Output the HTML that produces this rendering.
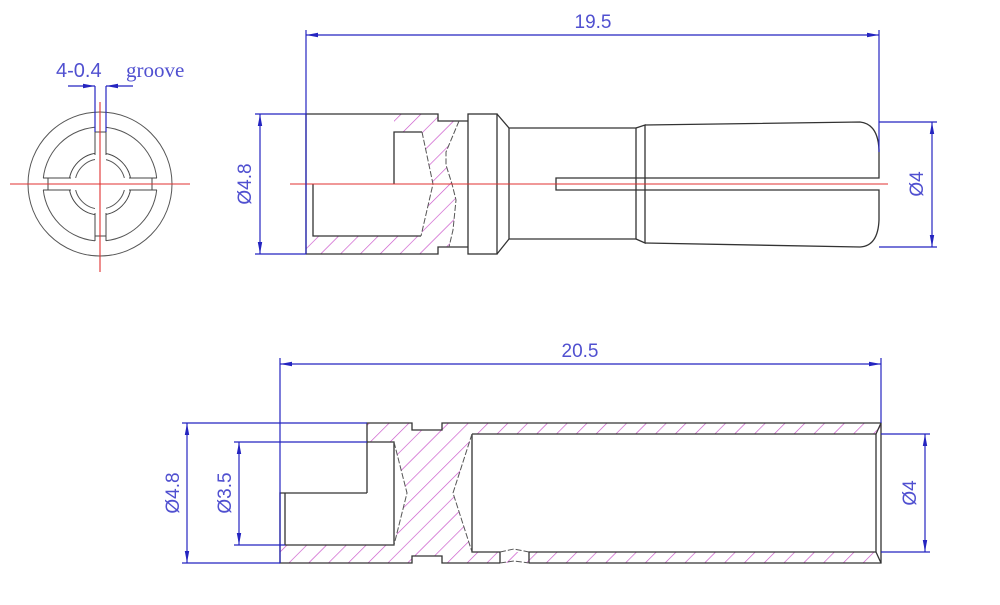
<!DOCTYPE html>
<html><head><meta charset="utf-8"><style>
html,body{margin:0;padding:0;background:#fff;}
svg{display:block;}
.k{stroke:#333;stroke-width:1.3;fill:none;}
.k2{stroke:#444;stroke-width:1;fill:none;}
.g{stroke:#555;stroke-width:1;fill:none;}
.b{stroke:#2424c0;stroke-width:1.2;fill:none;}
.r{stroke:#e03030;stroke-width:1.1;fill:none;}
.t{font-family:"Liberation Sans",sans-serif;fill:#5050d0;font-size:19px;}
</style></head><body>
<svg width="1000" height="605" viewBox="0 0 1000 605" xmlns="http://www.w3.org/2000/svg">
<defs>
<pattern id="h" patternUnits="userSpaceOnUse" width="14" height="14" patternTransform="rotate(45)">
<line x1="0" y1="0" x2="0" y2="14" stroke="#c850c8" stroke-width="1.3"/>
</pattern>
<marker id="a" markerWidth="12" markerHeight="6" refX="12" refY="3" orient="auto" markerUnits="userSpaceOnUse">
<path d="M0,0.8 L12,3 L0,5.2Z" fill="#2424c0"/></marker>
</defs>

<!-- ===== end view circle ===== -->
<circle cx="100" cy="184" r="72" class="g"/>
<circle cx="100" cy="184" r="57" class="g"/>
<circle cx="100" cy="184" r="31" class="k2"/>
<circle cx="100" cy="184" r="25" class="g"/>
<rect x="95" y="126" width="11" height="116" fill="#fff"/>
<rect x="42" y="178" width="116" height="12" fill="#fff"/>
<g class="k2">
<line x1="95" y1="127" x2="95" y2="155"/><line x1="106" y1="127" x2="106" y2="155"/>
<line x1="95" y1="213" x2="95" y2="241"/><line x1="106" y1="213" x2="106" y2="241"/>
<line x1="43" y1="178" x2="71" y2="178"/><line x1="43" y1="190" x2="71" y2="190"/>
<line x1="129" y1="178" x2="157" y2="178"/><line x1="129" y1="190" x2="157" y2="190"/>
<line x1="95" y1="132" x2="106" y2="132"/><line x1="95" y1="236" x2="106" y2="236"/>
<line x1="48" y1="178" x2="48" y2="190"/><line x1="152" y1="178" x2="152" y2="190"/>
</g>
<line x1="10" y1="184" x2="190" y2="184" class="r"/>
<line x1="100" y1="102" x2="100" y2="272" class="r"/>
<line x1="95" y1="86" x2="95" y2="132" class="b"/>
<line x1="106" y1="86" x2="106" y2="132" class="b"/>
<line x1="68" y1="86" x2="95" y2="86" class="b" marker-end="url(#a)"/>
<line x1="133" y1="86" x2="106" y2="86" class="b" marker-end="url(#a)"/>
<text x="56" y="77" class="t" style="font-size:20px">4-0.4</text>
<text x="126" y="77" class="t" style="font-family:'Liberation Serif',serif;font-size:21px">groove</text>

<!-- ===== top side view ===== -->
<polygon points="394,114 438,114 438,121 459,121 446,152 446,165 452,184 456,200 453,230 449,247 438,247 438,254 306,254 306,236 421,236 433,184 422,132 394,132" fill="url(#h)"/>
<g class="k">
<polyline points="306,254 306,114 438,114 438,121 468,121"/>
<polyline points="306,254 438,254 438,247 468,247"/>
<polyline points="394,184 394,132 422,132"/>
<polyline points="313,184 313,236 421,236"/>
<rect x="468" y="114" width="29" height="140"/>
<polyline points="497,114 509,128 636,128 636,239 509,239 497,254"/>
<line x1="509" y1="128" x2="509" y2="239"/>
<polyline points="636,128 645,125 645,243 636,239"/>
<path d="M645,125 L860,122 Q878,124 879,150 L879,178 L556,178 L556,190 L879,190 L879,220 Q878,246 860,247 L645,243"/>
</g>
<g class="g" stroke-dasharray="6,2">
<polyline points="422,132 433,184 421,236"/>
<polyline points="459,121 446,152 446,165 452,184 456,200 453,230 449,247"/>
</g>
<line x1="290" y1="184" x2="888" y2="184" class="r"/>
<!-- dims -->
<line x1="306" y1="30" x2="306" y2="254" class="b"/>
<line x1="879" y1="30" x2="879" y2="152" class="b"/>
<line x1="593" y1="35" x2="306" y2="35" class="b" marker-end="url(#a)"/>
<line x1="593" y1="35" x2="879" y2="35" class="b" marker-end="url(#a)"/>
<text x="593" y="28" class="t" text-anchor="middle">19.5</text>
<line x1="255" y1="114" x2="306" y2="114" class="b"/>
<line x1="255" y1="254" x2="306" y2="254" class="b"/>
<line x1="260" y1="184" x2="260" y2="114" class="b" marker-end="url(#a)"/>
<line x1="260" y1="184" x2="260" y2="254" class="b" marker-end="url(#a)"/>
<text transform="translate(251,184) rotate(-90)" class="t" text-anchor="middle">Ø4.8</text>
<line x1="879" y1="122" x2="937" y2="122" class="b"/>
<line x1="879" y1="247" x2="937" y2="247" class="b"/>
<line x1="932" y1="184" x2="932" y2="122" class="b" marker-end="url(#a)"/>
<line x1="932" y1="184" x2="932" y2="247" class="b" marker-end="url(#a)"/>
<text transform="translate(923,184) rotate(-90)" class="t" text-anchor="middle">Ø4</text>

<!-- ===== bottom view ===== -->
<polygon points="367,423 412,423 412,430 442,430 442,423 881,423 881,434 472,434 453,493 472,552 881,552 881,563 442,563 442,556 412,556 412,563 280,563 280,545 394,545 407,493 394,442 367,442" fill="url(#h)"/>
<g class="k">
<polyline points="367,493 367,423 412,423 412,430 442,430 442,423 881,423 881,563 529,563"/>
<polyline points="500,563 442,563 442,556 412,556 412,563 280,563 280,493 367,493"/>
<line x1="285" y1="493" x2="285" y2="545"/>
<polyline points="367,442 394,442 394,545 285,545"/>
<polyline points="472,434 472,552 500,552 500,563"/>
<polyline points="529,563 529,552 876,552"/>
<line x1="472" y1="434" x2="876" y2="434"/>
<polyline points="876,434 881,423"/><polyline points="876,552 881,563"/>
<line x1="876" y1="434" x2="876" y2="552"/>
</g>
<g class="g" stroke-dasharray="6,2">
<polyline points="394,442 407,493 394,545"/>
<polyline points="472,434 453,493 472,552"/>
<polyline points="500,552 514,549 529,552"/>
<polyline points="500,563 514,561 529,563"/>
</g>
<!-- dims -->
<line x1="280" y1="358" x2="280" y2="563" class="b"/>
<line x1="881" y1="358" x2="881" y2="423" class="b"/>
<line x1="580" y1="364" x2="280" y2="364" class="b" marker-end="url(#a)"/>
<line x1="580" y1="364" x2="881" y2="364" class="b" marker-end="url(#a)"/>
<text x="580" y="357" class="t" text-anchor="middle">20.5</text>
<line x1="182" y1="423" x2="367" y2="423" class="b"/>
<line x1="182" y1="563" x2="280" y2="563" class="b"/>
<line x1="187" y1="493" x2="187" y2="423" class="b" marker-end="url(#a)"/>
<line x1="187" y1="493" x2="187" y2="563" class="b" marker-end="url(#a)"/>
<text transform="translate(179,493) rotate(-90)" class="t" text-anchor="middle">Ø4.8</text>
<line x1="234" y1="442" x2="367" y2="442" class="b"/>
<line x1="234" y1="545" x2="285" y2="545" class="b"/>
<line x1="239" y1="493" x2="239" y2="442" class="b" marker-end="url(#a)"/>
<line x1="239" y1="493" x2="239" y2="545" class="b" marker-end="url(#a)"/>
<text transform="translate(231,493) rotate(-90)" class="t" text-anchor="middle">Ø3.5</text>
<line x1="881" y1="434" x2="930" y2="434" class="b"/>
<line x1="881" y1="552" x2="930" y2="552" class="b"/>
<line x1="925" y1="493" x2="925" y2="434" class="b" marker-end="url(#a)"/>
<line x1="925" y1="493" x2="925" y2="552" class="b" marker-end="url(#a)"/>
<text transform="translate(916,493) rotate(-90)" class="t" text-anchor="middle">Ø4</text>
</svg>
</body></html>
